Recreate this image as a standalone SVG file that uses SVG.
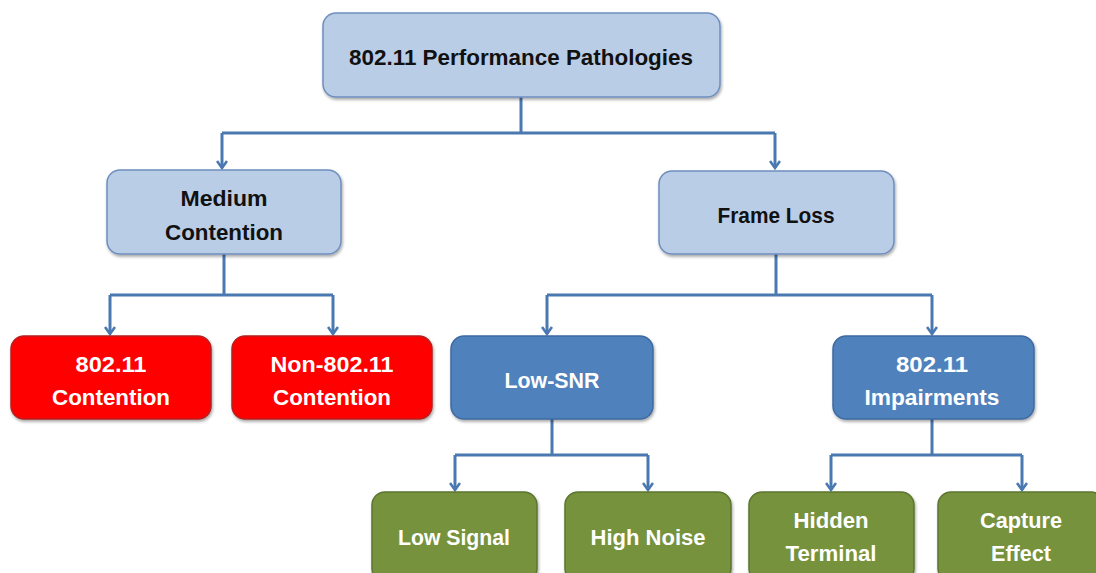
<svg xmlns="http://www.w3.org/2000/svg" width="1096" height="573" viewBox="0 0 1096 573">
<defs>
<marker id="arr" viewBox="0 0 12 12" refX="10.5" refY="6" markerWidth="12" markerHeight="12" markerUnits="userSpaceOnUse" orient="auto">
<path d="M3.5,1 L10.5,6 L3.5,11" fill="none" stroke="#4a78b0" stroke-width="2.6" stroke-linejoin="miter"/>
</marker>
<filter id="sh" x="-10%" y="-10%" width="120%" height="130%">
<feDropShadow dx="1" dy="2" stdDeviation="1.5" flood-color="#000" flood-opacity="0.35"/>
</filter>
</defs>
<style>
.lb{fill:#bacde6;stroke:#6f8fbe;stroke-width:1.5}
.db{fill:#4f81bd;stroke:#3d6aa1;stroke-width:1.5}
.rd{fill:#fe0000;stroke:#b52020;stroke-width:1.5}
.gr{fill:#76923c;stroke:#5c7530;stroke-width:1.5}
text{font-family:"Liberation Sans",Arial,sans-serif;font-weight:bold;font-size:22px;text-anchor:middle}
.k{fill:#111}
.w{fill:#fff}
.c{fill:none;stroke:#4a78b0;stroke-width:3}
</style>
<g id="connectors">
<path class="c" d="M521,97 V133 M222,133 H775"/>
<path class="c" d="M222,133 V168" marker-end="url(#arr)"/>
<path class="c" d="M775,133 V168" marker-end="url(#arr)"/>
<path class="c" d="M224,254 V295 M110,295 H333"/>
<path class="c" d="M110,295 V334" marker-end="url(#arr)"/>
<path class="c" d="M333,295 V334" marker-end="url(#arr)"/>
<path class="c" d="M776,254 V295 M547,295 H932"/>
<path class="c" d="M547,295 V334" marker-end="url(#arr)"/>
<path class="c" d="M932,295 V334" marker-end="url(#arr)"/>
<path class="c" d="M552,419 V455 M455,455 H648"/>
<path class="c" d="M455,455 V490" marker-end="url(#arr)"/>
<path class="c" d="M648,455 V490" marker-end="url(#arr)"/>
<path class="c" d="M932,419 V455 M831,455 H1022"/>
<path class="c" d="M831,455 V490" marker-end="url(#arr)"/>
<path class="c" d="M1022,455 V490" marker-end="url(#arr)"/>
</g>
<g id="root">
<rect class="lb" x="323" y="13" width="397" height="84" rx="13" filter="url(#sh)"/>
<text class="k" x="521" y="65" textLength="344" lengthAdjust="spacingAndGlyphs">802.11 Performance Pathologies</text>
</g>
<g id="medium">
<rect class="lb" x="107" y="170" width="234" height="84" rx="13" filter="url(#sh)"/>
<text class="k" x="224" y="206" textLength="87" lengthAdjust="spacingAndGlyphs">Medium</text>
<text class="k" x="224" y="240" textLength="118" lengthAdjust="spacingAndGlyphs">Contention</text>
</g>
<g id="frameloss">
<rect class="lb" x="659" y="171" width="235" height="83" rx="13" filter="url(#sh)"/>
<text class="k" x="776" y="223" textLength="117" lengthAdjust="spacingAndGlyphs">Frame Loss</text>
</g>
<g id="c80211">
<rect class="rd" x="11" y="336" width="200" height="83" rx="13" filter="url(#sh)"/>
<text class="w" x="111" y="372" textLength="71" lengthAdjust="spacingAndGlyphs">802.11</text>
<text class="w" x="111" y="405" textLength="118" lengthAdjust="spacingAndGlyphs">Contention</text>
</g>
<g id="cnon80211">
<rect class="rd" x="232" y="336" width="200" height="83" rx="13" filter="url(#sh)"/>
<text class="w" x="332" y="372" textLength="123" lengthAdjust="spacingAndGlyphs">Non-802.11</text>
<text class="w" x="332" y="405" textLength="118" lengthAdjust="spacingAndGlyphs">Contention</text>
</g>
<g id="lowsnr">
<rect class="db" x="451" y="336" width="202" height="83" rx="13" filter="url(#sh)"/>
<text class="w" x="552" y="388" textLength="95" lengthAdjust="spacingAndGlyphs">Low-SNR</text>
</g>
<g id="impair">
<rect class="db" x="833" y="336" width="201" height="83" rx="13" filter="url(#sh)"/>
<text class="w" x="932" y="372" textLength="72" lengthAdjust="spacingAndGlyphs">802.11</text>
<text class="w" x="932" y="405" textLength="135" lengthAdjust="spacingAndGlyphs">Impairments</text>
</g>
<g id="lowsignal">
<rect class="gr" x="372" y="492" width="165" height="90" rx="13" filter="url(#sh)"/>
<text class="w" x="454" y="545" textLength="112" lengthAdjust="spacingAndGlyphs">Low Signal</text>
</g>
<g id="highnoise">
<rect class="gr" x="565" y="492" width="166" height="90" rx="13" filter="url(#sh)"/>
<text class="w" x="648" y="545" textLength="115" lengthAdjust="spacingAndGlyphs">High Noise</text>
</g>
<g id="hidden">
<rect class="gr" x="749" y="492" width="165" height="90" rx="13" filter="url(#sh)"/>
<text class="w" x="831" y="528" textLength="75" lengthAdjust="spacingAndGlyphs">Hidden</text>
<text class="w" x="831" y="561" textLength="91" lengthAdjust="spacingAndGlyphs">Terminal</text>
</g>
<g id="capture">
<rect class="gr" x="938" y="492" width="166" height="90" rx="13" filter="url(#sh)"/>
<text class="w" x="1021" y="528" textLength="82" lengthAdjust="spacingAndGlyphs">Capture</text>
<text class="w" x="1021" y="561" textLength="60" lengthAdjust="spacingAndGlyphs">Effect</text>
</g>
</svg>
